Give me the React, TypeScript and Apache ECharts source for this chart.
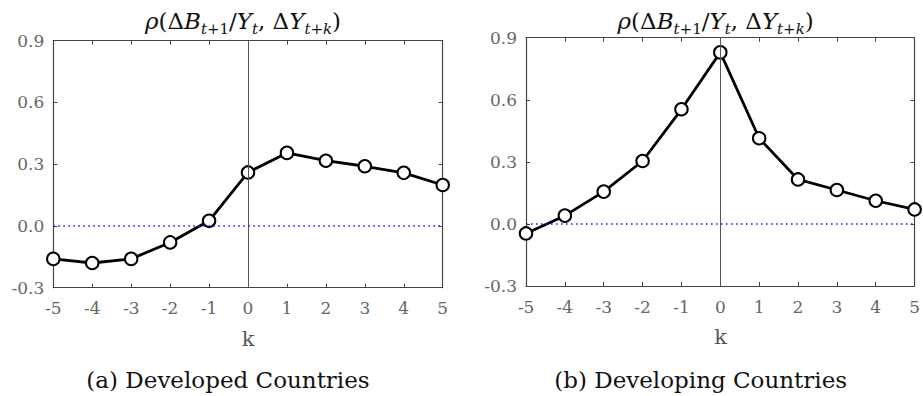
import React, { useEffect, useRef } from "react";
import * as echarts from "echarts";

const kValues = [-5, -4, -3, -2, -1, 0, 1, 2, 3, 4, 5];
const developed = [-0.16, -0.18, -0.16, -0.08, 0.025, 0.26, 0.355, 0.317, 0.29, 0.258, 0.199];
const developing = [-0.046, 0.04, 0.156, 0.304, 0.554, 0.829, 0.414, 0.215, 0.164, 0.112, 0.07];
const yTicks = [-0.3, 0.0, 0.3, 0.6, 0.9];
const captions = ["(a) Developed Countries", "(b) Developing Countries"];
const xLabel = "k";

const FONT = "DejaVu Serif";
const AXIS_COLOR = "#444";
const LABEL_COLOR = "#666";

const grids = [
  { left: 53.3, top: 40.7, width: 389.4, height: 247 },
  { left: 526, top: 37.7, width: 389.3, height: 248.3 },
];

export default function App() {
  const ref = useRef<HTMLDivElement>(null);
  useEffect(() => {
    if (!ref.current) return;
    const chart = echarts.init(ref.current, null, { renderer: "svg" });

    const xAxes: any[] = [];
    const yAxes: any[] = [];
    const series: any[] = [];
    const graphics: any[] = [];
    const datasets = [developed, developing];

    grids.forEach((g, i) => {
      const tickCommon = { show: true, inside: true, length: 4, lineStyle: { color: AXIS_COLOR, width: 1 } };
      xAxes.push({
        type: "value", gridIndex: i, position: "bottom", min: -5, max: 5, interval: 1,
        axisLine: { show: true, onZero: false, lineStyle: { color: AXIS_COLOR, width: 1.2 } },
        axisTick: tickCommon,
        axisLabel: { color: LABEL_COLOR, fontFamily: FONT, fontSize: 17, margin: 12, formatter: (v: number) => String(v) },
        splitLine: { show: false },
      });
      xAxes.push({
        type: "value", gridIndex: i, position: "top", min: -5, max: 5, interval: 1,
        axisLine: { show: true, onZero: false, lineStyle: { color: AXIS_COLOR, width: 1.2 } },
        axisTick: tickCommon,
        axisLabel: { show: false },
        splitLine: { show: false },
      });
      yAxes.push({
        type: "value", gridIndex: i, position: "left", min: yTicks[0], max: yTicks[yTicks.length - 1], interval: 0.3,
        axisLine: { show: true, onZero: false, lineStyle: { color: AXIS_COLOR, width: 1.2 } },
        axisTick: tickCommon,
        axisLabel: { color: LABEL_COLOR, fontFamily: FONT, fontSize: 17, margin: 9, formatter: (v: number) => v.toFixed(1) },
        splitLine: { show: false },
      });
      yAxes.push({
        type: "value", gridIndex: i, position: "right", min: yTicks[0], max: yTicks[yTicks.length - 1], interval: 0.3,
        axisLine: { show: true, onZero: false, lineStyle: { color: AXIS_COLOR, width: 1.2 } },
        axisTick: tickCommon,
        axisLabel: { show: false },
        splitLine: { show: false },
      });

      series.push({
        type: "line", xAxisIndex: i * 2, yAxisIndex: i * 2, data: [], z: 1, silent: true,
        markLine: {
          silent: true, symbol: "none", label: { show: false }, animation: false,
          data: [
            { xAxis: 0, lineStyle: { color: "#555", width: 1, type: "solid" } },
            { yAxis: 0, lineStyle: { color: "#2222ee", width: 1.6, type: [1.6, 3.4] } },
          ],
        },
      });
      series.push({
        type: "line", xAxisIndex: i * 2, yAxisIndex: i * 2, z: 3,
        data: kValues.map((k, j) => [k, datasets[i][j]]),
        lineStyle: { color: "#000", width: 2.8 },
        symbol: "emptyCircle", symbolSize: 12.5,
        itemStyle: { color: "#000", borderColor: "#000", borderWidth: 3 },
      });

      const cx = g.left + g.width / 2;
      graphics.push({
        type: "text", x: cx - 5, y: 21,
        style: {
          text: "{it|ρ}{r|(Δ}{it|B}{si|t}{s|+1}{r|/}{it|Y}{si|t}{r|, Δ}{it|Y}{si|t}{s|+}{si|k}{r|)}",
          align: "center", verticalAlign: "middle",
          rich: {
            it: { fontFamily: FONT, fontStyle: "italic", fontSize: 23, lineHeight: 30, fill: "#111" },
            r: { fontFamily: FONT, fontSize: 23, lineHeight: 30, fill: "#111" },
            si: { fontFamily: FONT, fontStyle: "italic", fontSize: 15, lineHeight: 17, verticalAlign: "bottom", fill: "#111" },
            s: { fontFamily: FONT, fontSize: 15, lineHeight: 17, verticalAlign: "bottom", fill: "#111" },
          },
        },
      });
      graphics.push({
        type: "text", x: cx, y: g.top + g.height + 51,
        style: { text: xLabel, fontFamily: FONT, fontSize: 21, fill: "#555", align: "center", verticalAlign: "middle" },
      });
      graphics.push({
        type: "text", x: cx - 20, y: 380,
        style: { text: captions[i], fontFamily: FONT, fontSize: 23, fill: "#111", align: "center", verticalAlign: "middle" },
      });
    });

    chart.setOption({
      animation: false,
      backgroundColor: "#fff",
      grid: grids.map((g) => ({ ...g, containLabel: false })),
      xAxis: xAxes,
      yAxis: yAxes,
      series,
      graphic: graphics,
    });
    return () => chart.dispose();
  }, []);
  return <div ref={ref} style={{ position: "absolute", left: 0, top: 0, width: 923, height: 396 }} />;
}
